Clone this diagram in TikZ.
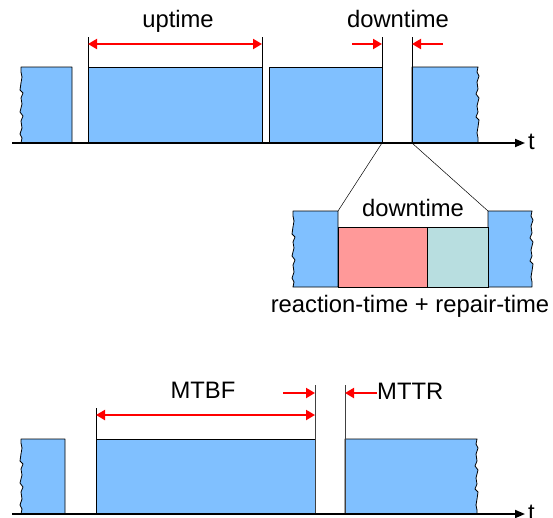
\documentclass[tikz,border=0pt]{standalone}
\usepackage{fontspec}
\setmainfont{Liberation Sans}
\usetikzlibrary{arrows.meta}
\definecolor{upblue}{RGB}{128,192,255}
\definecolor{reactpink}{RGB}{255,153,153}
\definecolor{repairteal}{RGB}{184,222,224}
% broken edges: steps going up (left edges) and going down (right edges)
\def\jagup{1/-5,-2/-4,2/-6,-1/-7,2/-5,-3/-4,2/-8,-1/-6,2/-5,-3/-3,1/-7,1/-6,-1/-5}
\def\jagdown{-1/5,2/4,-2/6,1/7,-2/5,3/4,-2/8,1/6,-2/5,3/3,-1/7,-1/6,1/5}
\begin{document}
\begin{tikzpicture}[x=1pt,y=-1pt,
  block/.style={fill=upblue,draw=black,line width=0.8pt,line join=round},
  phase/.style={draw=black,line width=0.8pt},
  axis/.style={line width=1.8pt,-{Triangle[length=10pt,width=8pt]}},
  tick/.style={draw=black,line width=0.7pt},
  lead/.style={draw=black,line width=0.5pt},
  span/.style={red,line width=2pt,{Triangle[length=9pt,width=10pt]}-{Triangle[length=9pt,width=10pt]}},
  pointer/.style={red,line width=2pt,-{Triangle[length=9pt,width=10pt]}},
  lbl/.style={font=\fontsize{23.8}{28}\selectfont,inner sep=0pt}]
\useasboundingbox (0,0) rectangle (553,517);

% ---------------- upper time line ----------------
\draw[block] (21,143) foreach \dx/\dy in \jagup {-- ++(\dx,\dy)} -- (21,67) -- (72,67) -- (72,143) -- cycle;
\draw[block] (88,143) rectangle (262,67);
\draw[block] (269,143) rectangle (382,67);
\draw[block] (412,143) -- (412,67) -- (478,67) foreach \dx/\dy in \jagdown {-- ++(\dx,\dy)} -- (478,143) -- cycle;

\coordinate (upA) at (88,37);   \coordinate (upAb) at (88,67);
\coordinate (upB) at (262,37);  \coordinate (upBb) at (262,143);
\coordinate (dnA) at (382,37);  \coordinate (dnAb) at (382,143);
\coordinate (dnB) at (412,37);  \coordinate (dnBb) at (412,143);
\draw[tick] (upA) -- (upAb);
\draw[tick] (upB) -- (upBb);
\draw[tick] (dnA) -- (dnAb);
\draw[tick] (dnB) -- (dnBb);

\coordinate (axT0) at (12,143);
\coordinate (axT1) at (525,143);
\draw[axis] (axT0) -- (axT1);
\node[lbl,anchor=base west] (tTop) at (528,149) {t};

\coordinate (upL) at (88,44);  \coordinate (upR) at (262,44);
\draw[span] (upL) -- (upR);
\node[lbl,anchor=base] (uptime) at (178,27) {uptime};

\coordinate (dnLs) at (352,44); \coordinate (dnLe) at (382,44);
\coordinate (dnRs) at (443,44); \coordinate (dnRe) at (412,44);
\draw[pointer] (dnLs) -- (dnLe);
\draw[pointer] (dnRs) -- (dnRe);
\node[lbl,anchor=base] (downtime) at (398,27) {downtime};

% ---------------- enlarged downtime ----------------
\coordinate (zL) at (338,211);
\coordinate (zR) at (488,211);
\draw[lead] (dnAb) -- (zL);
\draw[lead] (dnBb) -- (zR);

\draw[block] (293,287) foreach \dx/\dy in \jagup {-- ++(\dx,\dy)} -- (293,211) -- (338,211) -- (338,287) -- cycle;
\draw[block] (488,287) -- (488,211) -- (532,211) foreach \dx/\dy in \jagdown {-- ++(\dx,\dy)} -- (532,287) -- cycle;
\draw[phase,fill=reactpink] (338,227) rectangle (427,287);
\draw[phase,fill=repairteal] (427,227) rectangle (488,287);
\node[lbl,anchor=base] (zdown) at (413,216) {downtime};
\node[lbl,anchor=base] (zsum) at (410,312) {reaction-time + repair-time};

% ---------------- lower time line ----------------
\draw[block] (21,514) foreach \dx/\dy in \jagup {-- ++(\dx,\dy)} -- (21,439) -- (65,439) -- (65,514) -- cycle;
\draw[block] (96,514) rectangle (315,439);
\draw[block] (345,514) -- (345,439) -- (477,439) foreach \dx/\dy in \jagdown {-- ++(\dx,\dy)} -- (477,514) -- cycle;

\coordinate (mbA) at (96,408);  \coordinate (mbAb) at (96,439);
\coordinate (mrA) at (315,385); \coordinate (mrAb) at (315,514);
\coordinate (mrB) at (345,385); \coordinate (mrBb) at (345,514);
\draw[tick] (mbA) -- (mbAb);
\draw[tick,draw=black!75] (mrA) -- (mrAb);
\draw[tick,draw=black!75] (mrB) -- (mrBb);

\coordinate (axB0) at (12,514);
\coordinate (axB1) at (525,514);
\draw[axis] (axB0) -- (axB1);
\node[lbl,anchor=base west] (tBot) at (528,520) {t};

\coordinate (mbL) at (96,415); \coordinate (mbR) at (315,415);
\draw[span] (mbL) -- (mbR);
\node[lbl,anchor=base] (mtbf) at (203,398) {MTBF};

\coordinate (mrLs) at (283,393); \coordinate (mrLe) at (315,393);
\coordinate (mrRs) at (377,393); \coordinate (mrRe) at (345,393);
\draw[pointer] (mrLs) -- (mrLe);
\draw[pointer] (mrRs) -- (mrRe);
\node[lbl,anchor=base west] (mttr) at (377,399) {MTTR};
\end{tikzpicture}
\end{document}
